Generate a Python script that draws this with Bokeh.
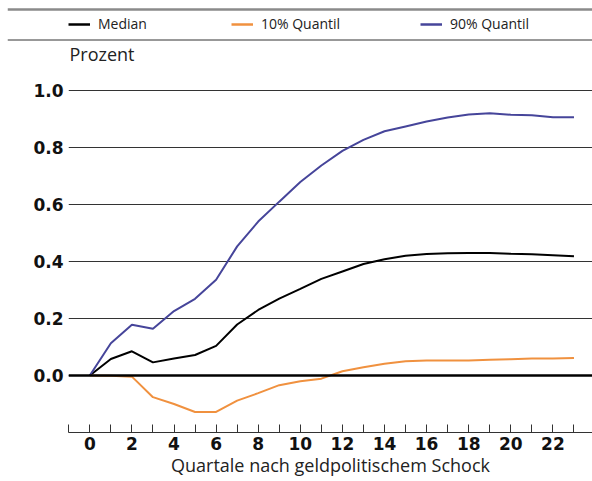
from bokeh.plotting import figure
from bokeh.layouts import column
from bokeh.models import (Range1d, FixedTicker, Span, Legend, LegendItem, Label)
from bokeh.embed import file_html
from bokeh.resources import INLINE

# ---------------- data ----------------
quarters = list(range(24))
median = [0.0, 0.058, 0.085, 0.046, 0.060, 0.072, 0.104, 0.179, 0.230, 0.270, 0.304, 0.339,
          0.365, 0.391, 0.408, 0.420, 0.426, 0.429, 0.430, 0.430, 0.427, 0.425, 0.422, 0.418]
q10 = [0.0, -0.001, -0.004, -0.076, -0.100, -0.128, -0.128, -0.088, -0.062, -0.034, -0.020, -0.011,
       0.015, 0.029, 0.041, 0.050, 0.053, 0.053, 0.053, 0.055, 0.057, 0.060, 0.060, 0.061]
q90 = [0.0, 0.113, 0.178, 0.164, 0.226, 0.269, 0.336, 0.453, 0.540, 0.610, 0.679, 0.737,
       0.788, 0.827, 0.857, 0.874, 0.891, 0.905, 0.916, 0.920, 0.915, 0.913, 0.906, 0.906]

series_names = ["Median", "10% Quantil", "90% Quantil"]
series_colors = ["#000000", "#f0913f", "#46459a"]

x_ticks = [0, 2, 4, 6, 8, 10, 12, 14, 16, 18, 20, 22]
x_tick_labels = ["0", "2", "4", "6", "8", "10", "12", "14", "16", "18", "20", "22"]
x_minor = [-1, 1, 3, 5, 7, 9, 11, 13, 15, 17, 19, 21, 23]
y_ticks = [0.0, 0.2, 0.4, 0.6, 0.8, 1.0]
y_tick_labels = ["0.0", "0.2", "0.4", "0.6", "0.8", "1.0"]

x_title = "Quartale nach geldpolitischem Schock"
y_unit = "Prozent"

TEXT_FONT = "Open Sans"
TICK_FONT = "DejaVu Sans"

# ---------------- header (rules, legend, unit) ----------------
W = 592
HH = 66
header = figure(width=W, height=HH, output_backend="svg", toolbar_location=None,
                x_range=Range1d(7, W), y_range=Range1d(HH, 0),
                x_axis_location=None, y_axis_location=None,
                min_border_left=7, min_border_right=0, min_border_top=0, min_border_bottom=0)
header.outline_line_color = None
header.grid.grid_line_color = None
header.background_fill_color = "white"
header.border_fill_color = "white"
header.frame_align = False

header.add_layout(Span(location=9, dimension="width", line_color="#8a8a8a", line_width=2.5))
header.add_layout(Span(location=39.5, dimension="width", line_color="#333333", line_width=1))

legend_x = [61, 224, 413]
for name, col, data, lx in zip(series_names, series_colors, [median, q10, q90], legend_x):
    r = header.line(quarters, data, line_color=col, line_width=2.5, visible=False)
    lg = Legend(items=[LegendItem(label=name, renderers=[r])],
                location=(lx, 33), orientation="horizontal",
                margin=0, padding=0, border_line_color=None, background_fill_alpha=0,
                glyph_width=22, glyph_height=18, label_height=18, label_standoff=8,
                label_text_font=TEXT_FONT, label_text_font_size="14px",
                label_text_color="#222222", inactive_fill_alpha=0)
    header.add_layout(lg)

header.add_layout(Label(x=69, y=53, text=y_unit, text_font=TEXT_FONT, text_font_size="18px",
                        text_baseline="middle", text_color="#222222"))

# ---------------- main chart ----------------
MH = 481 - HH
p = figure(width=W, height=MH, output_backend="svg", toolbar_location=None,
           x_range=Range1d(-1.012, 23.88), y_range=Range1d(-0.2, 1.0842),
           min_border_left=68, min_border_right=0, min_border_top=0, min_border_bottom=49)
p.outline_line_color = None
p.background_fill_color = "white"
p.border_fill_color = "white"
p.frame_align = False

p.xgrid.grid_line_color = None
p.ygrid.grid_line_color = "#333333"
p.ygrid.grid_line_width = 1

p.add_layout(Span(location=0, dimension="width", line_color="#000000", line_width=2.5))

for name, col, data in zip(series_names, series_colors, [median, q10, q90]):
    p.line(quarters, data, line_color=col, line_width=2)

xa = p.xaxis[0]
xa.ticker = FixedTicker(ticks=x_ticks, minor_ticks=x_minor)
xa.major_label_overrides = {t: l for t, l in zip(x_ticks, x_tick_labels)}
xa.axis_line_color = "#333333"
xa.major_tick_line_color = "#333333"
xa.minor_tick_line_color = "#333333"
xa.major_tick_in = 8
xa.major_tick_out = 0
xa.minor_tick_in = 8
xa.minor_tick_out = 0
xa.major_label_standoff = 4
xa.major_label_text_font = TICK_FONT
xa.major_label_text_font_style = "bold"
xa.major_label_text_font_size = "17px"
xa.major_label_text_color = "#111111"
xa.axis_label = x_title
xa.axis_label_text_font = TEXT_FONT
xa.axis_label_text_font_style = "normal"
xa.axis_label_text_font_size = "18px"
xa.axis_label_text_color = "#222222"
xa.axis_label_standoff = 0

ya = p.yaxis[0]
ya.ticker = FixedTicker(ticks=y_ticks)
ya.major_label_overrides = {t: l for t, l in zip(y_ticks, y_tick_labels)}
ya.axis_line_color = None
ya.major_tick_line_color = None
ya.minor_tick_line_color = None
ya.major_tick_in = 0
ya.major_tick_out = 0
ya.major_label_standoff = 5
ya.major_label_text_font = TICK_FONT
ya.major_label_text_font_style = "bold"
ya.major_label_text_font_size = "17px"
ya.major_label_text_color = "#111111"

layout = column(header, p, spacing=0)
open("out.html", "w").write(file_html(layout, INLINE))
